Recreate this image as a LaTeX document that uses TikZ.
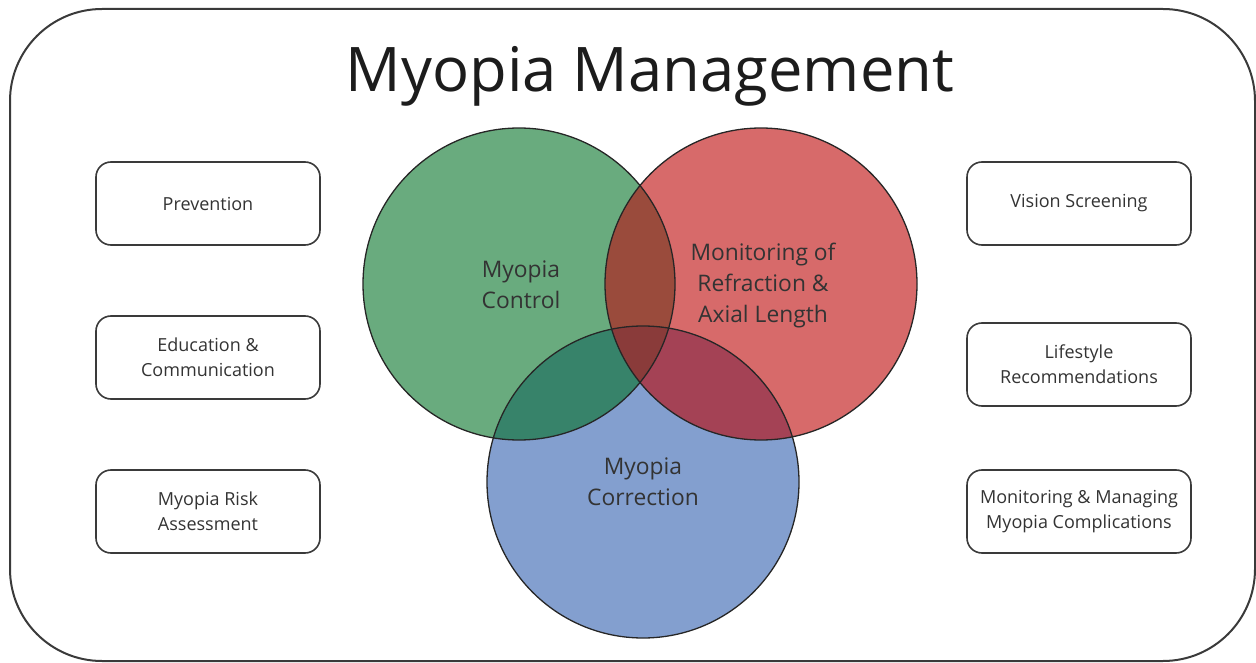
\documentclass[tikz,border=0pt]{standalone}
\usepackage{fontspec}
\setmainfont{Open Sans}
\definecolor{cgreen}{HTML}{69AB7E}
\definecolor{cred}{HTML}{D76A6A}
\definecolor{cblue}{HTML}{839FCF}
\definecolor{cgr}{HTML}{9A4B3C}
\definecolor{cgb}{HTML}{37836A}
\definecolor{crb}{HTML}{A44255}
\definecolor{cgrb}{HTML}{8A3B3A}
\definecolor{frameline}{HTML}{3A3A3A}
\definecolor{boxline}{HTML}{3A3A3A}
\definecolor{textgrey}{HTML}{333333}
\definecolor{titlecol}{HTML}{1C1C1C}
\begin{document}
\begin{tikzpicture}[x=1pt,y=-1pt]
\tikzset{
  sidebox/.style={draw=boxline, line width=1.6pt, rounded corners=15pt,
    minimum width=224pt, minimum height=83pt, align=center, inner sep=0pt,
    font=\fontsize{18}{25}\selectfont, text=textgrey},
  circtext/.style={align=center, inner sep=0pt, text=titlecol!90,
    font=\fontsize{22.8}{31}\selectfont},
  outline/.style={draw=black!85, line width=1.3pt}
}
\useasboundingbox (0,0) rectangle (1256,663);
% frame
\node[draw=frameline, line width=2pt, rounded corners=92pt,
      minimum width=1245pt, minimum height=652pt, inner sep=0pt] (frame) at (632.5,335) {};
% title
\node[anchor=base, inner sep=0pt, text=titlecol, font=\fontsize{61.5}{70}\selectfont] (title) at (650,92) {Myopia Management};
% circle centres
\coordinate (G) at (519,284);
\coordinate (R) at (761,284);
\coordinate (B) at (643,482);
\def\rr{156}
% single fills
\fill[cgreen] (G) circle (\rr);
\fill[cred] (R) circle (\rr);
\fill[cblue] (B) circle (\rr);
% pair overlaps
\begin{scope}\clip (G) circle (\rr); \fill[cgr] (R) circle (\rr); \end{scope}
\begin{scope}\clip (G) circle (\rr); \fill[cgb] (B) circle (\rr); \end{scope}
\begin{scope}\clip (R) circle (\rr); \fill[crb] (B) circle (\rr); \end{scope}
\begin{scope}\clip (G) circle (\rr); \clip (R) circle (\rr); \fill[cgrb] (B) circle (\rr); \end{scope}
% outlines
\draw[outline] (G) circle (\rr);
\draw[outline] (R) circle (\rr);
\draw[outline] (B) circle (\rr);
% circle labels
\node[circtext] (ctrl) at (521,285) {Myopia\\Control};
\node[circtext] (mon) at (763,286) {Monitoring of\\Refraction \&\\Axial Length};
\node[circtext] (corr) at (643,482) {Myopia\\Correction};
% side boxes
\node[sidebox] (prev) at (208,203.5) {Prevention};
\node[sidebox] (edu) at (208,357.5) {Education \&\\Communication};
\node[sidebox] (risk) at (208,511.5) {Myopia Risk\\Assessment};
\node[sidebox] (vis) at (1079,203.5) {Vision Screening};
\node[sidebox] (life) at (1079,364.5) {Lifestyle\\Recommendations};
\node[sidebox] (comp) at (1079,511.5) {Monitoring \& Managing\\Myopia Complications};
\end{tikzpicture}
\end{document}
